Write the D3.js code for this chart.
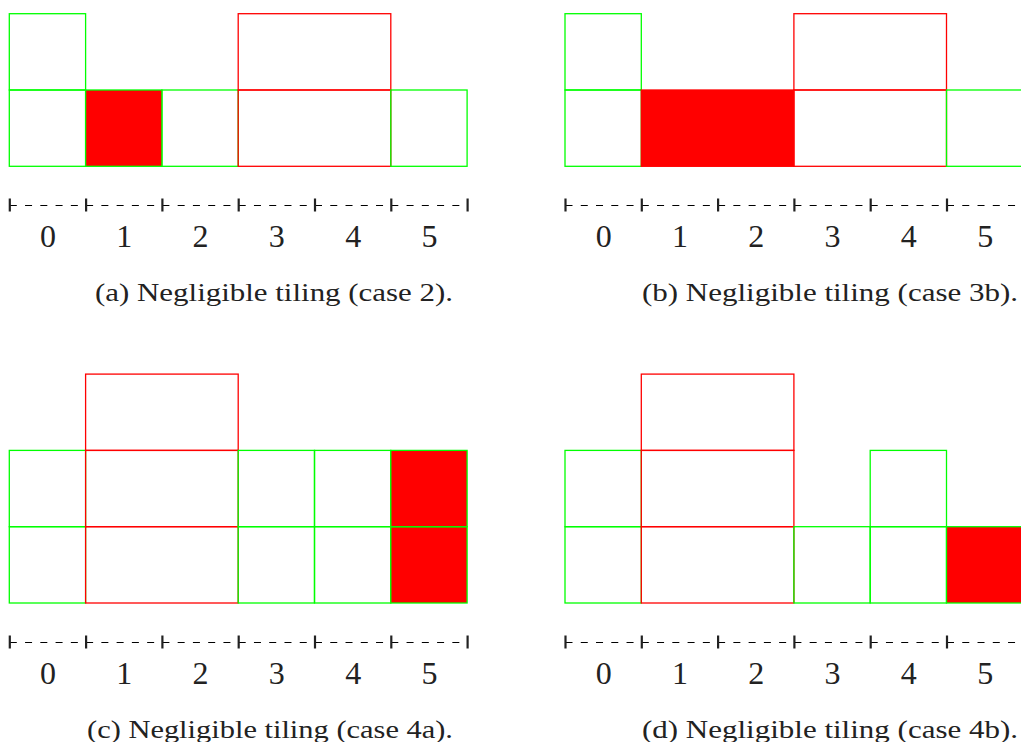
<!DOCTYPE html>
<html>
<head>
<meta charset="utf-8">
<script src="https://cdn.jsdelivr.net/npm/d3@7"></script>
<style>
  body { margin: 0; background: #fff; }
  svg { display: block; }
</style>
</head>
<body>
<svg id="fig" width="1021" height="742"></svg>
<script>
// column numbers shown under each strip
var cols = [0, 1, 2, 3, 4, 5];
// tile boundaries between columns
var bounds = [-0.5, 0.5, 1.5, 2.5, 3.5, 4.5, 5.5];

// tiles: [first col, last col + 1, row, kind]
// g = green outline, r = red outline, fg = red fill / green edge, fr = red fill
var tilesA = [[0,1,0,"g"],[0,1,1,"g"],[1,2,0,"fg"],[2,3,0,"g"],[3,5,0,"r"],[3,5,1,"r"],[5,6,0,"g"]];
var tilesB = [[0,1,0,"g"],[0,1,1,"g"],[1,3,0,"fr"],[3,5,0,"r"],[3,5,1,"r"],[5,6,0,"g"]];
var tilesC = [[0,1,0,"g"],[0,1,1,"g"],[1,3,0,"r"],[1,3,1,"r"],[1,3,2,"r"],[3,4,0,"g"],[3,4,1,"g"],
              [4,5,0,"g"],[4,5,1,"g"],[5,6,0,"fg"],[5,6,1,"fg"]];
var tilesD = [[0,1,0,"g"],[0,1,1,"g"],[1,3,0,"r"],[1,3,1,"r"],[1,3,2,"r"],[3,4,0,"g"],
              [4,5,0,"g"],[4,5,1,"g"],[5,6,0,"fg"]];

var captions = [
    "(a) Negligible tiling (case 2).",
    "(b) Negligible tiling (case 3b).",
    "(c) Negligible tiling (case 4a).",
    "(d) Negligible tiling (case 4b)."
];

var unit = 76.3;
var panels = [
    {tiles: tilesA, left: 9.3, bottom: 166.3, axisY: 205, labelY: 247, capX: 453, capY: 301, capW: 358},
    {tiles: tilesB, left: 565, bottom: 166.3, axisY: 205, labelY: 247, capX: 1018, capY: 301, capW: 376},
    {tiles: tilesC, left: 9.3, bottom: 603, axisY: 642, labelY: 684, capX: 453, capY: 738, capW: 366},
    {tiles: tilesD, left: 565, bottom: 603, axisY: 642, labelY: 684, capX: 1018, capY: 738, capW: 376}
];

var serif = "'Liberation Serif', 'Times New Roman', serif";
var green = "#00ff00", red = "#ff0000";
var strokeOf = {g: green, r: red, fg: green, fr: red};
var fillOf = {g: "none", r: "none", fg: red, fr: red};

var svg = d3.select("#fig");

panels.forEach(function(p, i)
{
    var x = d3.scaleLinear()
        .domain([-0.5, 5.5])
        .range([p.left, p.left + 6 * unit]);

    var y = d3.scaleLinear()
        .domain([0, 3])
        .range([p.bottom, p.bottom - 3 * unit]);

    var g = svg.append("g");

    // filled tiles first so outlines sit on top
    var order = p.tiles.slice().sort(function(a, b)
    {
        return (fillOf[b[3]] === "none") - (fillOf[a[3]] === "none");
    });

    g.selectAll("rect")
        .data(order)
        .enter().append("rect")
        .attr("x", function(d) { return x(d[0] - 0.5); })
        .attr("width", function(d) { return x(d[1] - 0.5) - x(d[0] - 0.5); })
        .attr("y", function(d) { return y(d[2] + 1); })
        .attr("height", function(d) { return y(d[2]) - y(d[2] + 1); })
        .style("fill", function(d) { return fillOf[d[3]]; })
        .style("stroke", function(d) { return strokeOf[d[3]]; })
        .style("stroke-width", 1.3);

    // dashed number line with boundary ticks
    var axis = d3.axisBottom(x)
        .tickValues(bounds)
        .tickSizeInner(11)
        .tickSizeOuter(0)
        .tickFormat("");

    var ax = g.append("g")
        .attr("transform", "translate(0," + p.axisY + ")")
        .call(axis);
    ax.select(".domain")
        .attr("stroke", "#000")
        .attr("stroke-width", 1.2)
        .attr("stroke-dasharray", "7," + (unit / 5 - 7));
    ax.selectAll(".tick line")
        .attr("y1", -6.5)
        .attr("y2", 6.5)
        .attr("stroke", "#222")
        .attr("stroke-width", 2.2);

    // column numbers
    var lab = g.append("g")
        .attr("transform", "translate(0," + p.axisY + ")")
        .call(d3.axisBottom(x).tickValues(cols).tickSize(0).tickFormat(d3.format("d")));
    lab.select(".domain").remove();
    lab.selectAll("text")
        .attr("dy", null)
        .attr("y", p.labelY - p.axisY)
        .attr("fill", "#222")
        .style("font-family", serif)
        .style("font-size", "32px");

    g.append("text")
        .attr("x", p.capX)
        .attr("y", p.capY)
        .attr("text-anchor", "end")
        .attr("textLength", p.capW)
        .attr("lengthAdjust", "spacingAndGlyphs")
        .attr("fill", "#222")
        .style("font-family", serif)
        .style("font-size", "26px")
        .text(captions[i]);
});
</script>
</body>
</html>
